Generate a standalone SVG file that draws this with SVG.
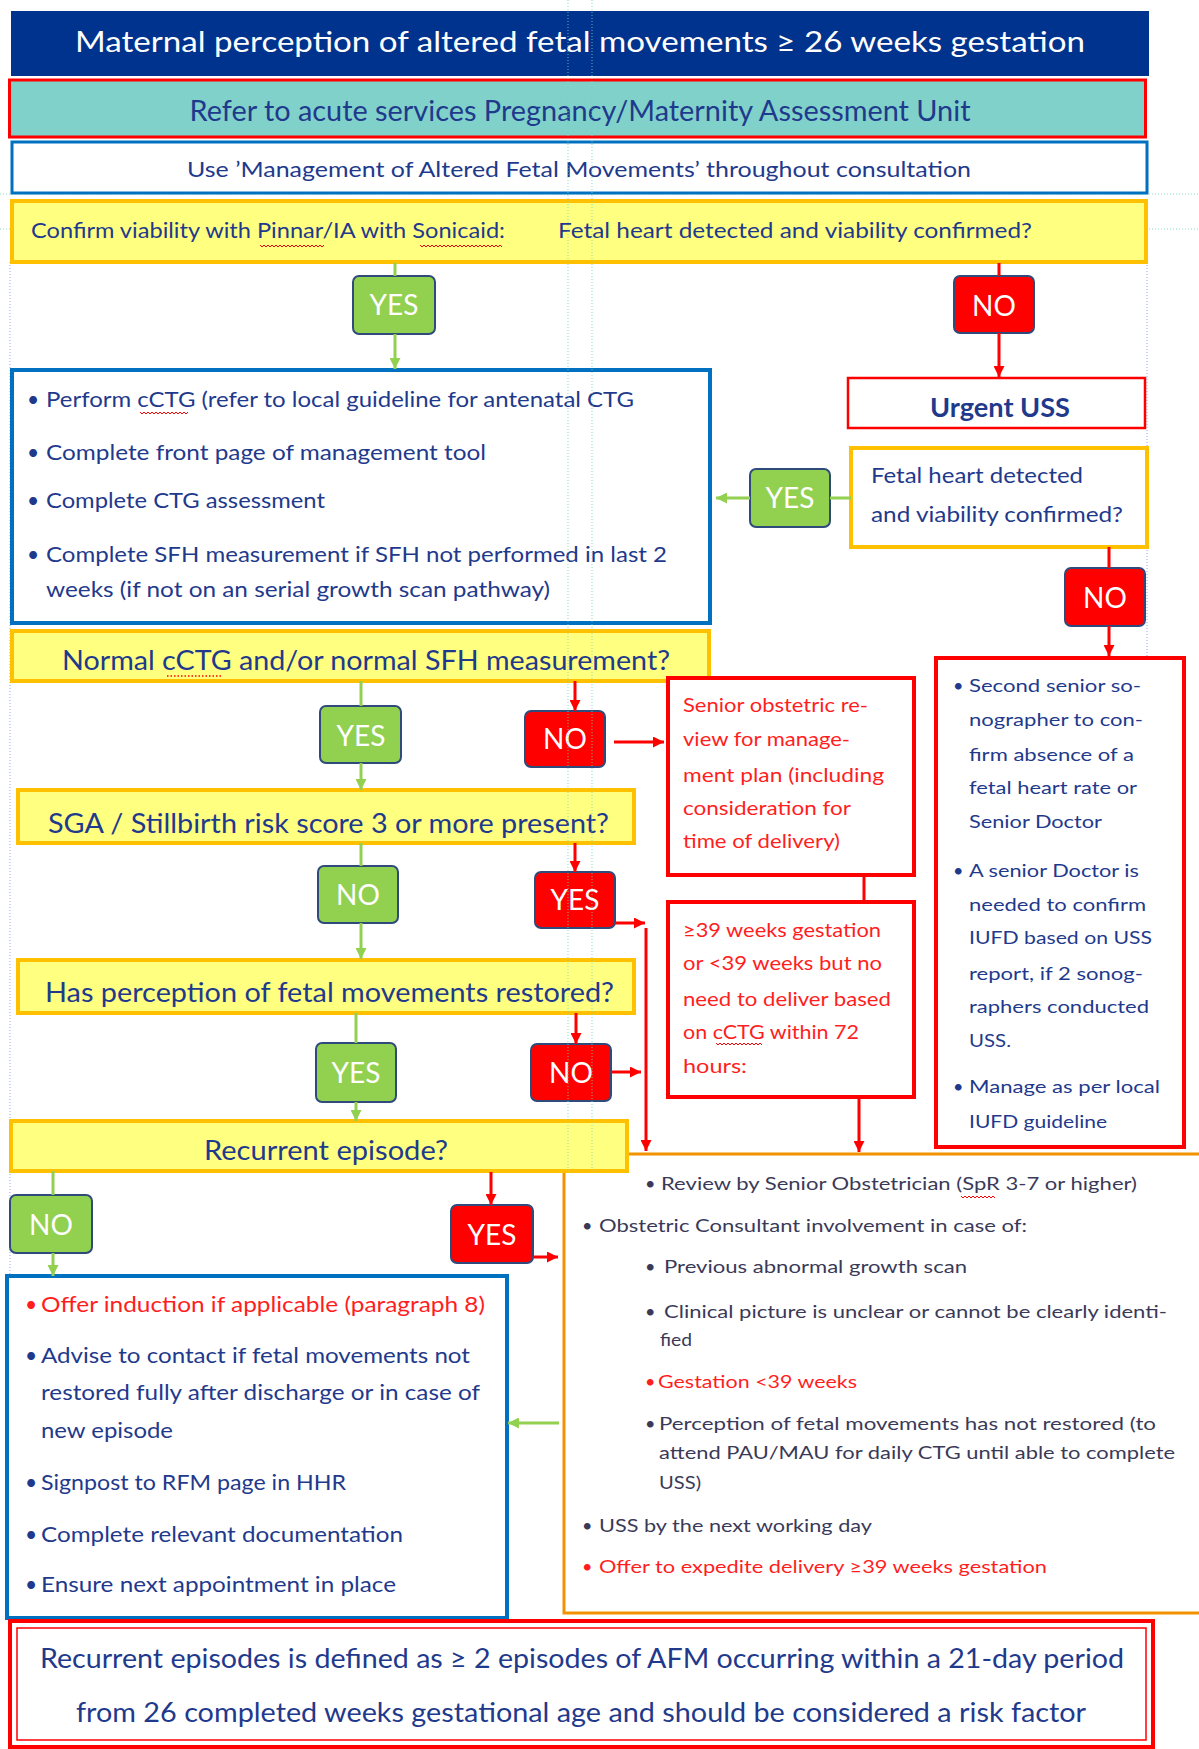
<svg xmlns="http://www.w3.org/2000/svg" width="1199" height="1749" viewBox="0 0 1199 1749">
<style>
text{font-family:Lato,"Liberation Sans",sans-serif}
.nv{fill:#1F3A8C}
.rd{fill:#FF1E1E}
.gy{fill:#3A3A58}
.yn{font-size:28px;fill:#fff;text-anchor:middle}
.gbox{fill:#92D050;stroke:#2F4B7C;stroke-width:2}
.rbox{fill:#FF0000;stroke:#2F4B7C;stroke-width:2}
.ybox{fill:#FFFF80;stroke:#FFC000;stroke-width:4}
.gl{stroke:#92D050;stroke-width:3;fill:none}
.rl{stroke:#FF0000;stroke-width:3;fill:none}
.guide{stroke:#8FA8F0;stroke-width:1;stroke-dasharray:1 2;fill:none}
.guideg{stroke:#6FD6B8;stroke-width:1;stroke-dasharray:1 2;fill:none;opacity:.8}
.sq{stroke:#FF0000;stroke-width:1;fill:none}
.b21{font-size:21px}
.b19{font-size:19px}
.b18{font-size:18px}
</style>
<defs>
<marker id="ag" viewBox="0 0 10 10" refX="10" refY="5" markerWidth="11" markerHeight="11" markerUnits="userSpaceOnUse" orient="auto"><path d="M0,0 L10,5 L0,10 z" fill="#92D050"/></marker>
<marker id="ar" viewBox="0 0 10 10" refX="10" refY="5" markerWidth="11" markerHeight="11" markerUnits="userSpaceOnUse" orient="auto"><path d="M0,0 L10,5 L0,10 z" fill="#FF0000"/></marker>
</defs>
<rect width="1199" height="1749" fill="#fff"/>

<g id="guides">
<line class="guideg" x1="0" y1="194" x2="1199" y2="194"/>
<line class="guideg" x1="0" y1="229" x2="1199" y2="229"/>
<line class="guide" x1="10" y1="262" x2="10" y2="1276"/>
<line class="guide" x1="1147" y1="262" x2="1147" y2="658"/>
</g>

<g id="header">
<rect x="11" y="11" width="1138" height="65" fill="#00338D"/>
<text x="580" y="52" font-size="28" fill="#fff" text-anchor="middle" textLength="1010" lengthAdjust="spacingAndGlyphs">Maternal perception of altered fetal movements  ≥ 26 weeks gestation</text>
</g>

<g id="refer">
<rect x="9.5" y="80" width="1136" height="57" fill="#80D1C9" stroke="#FF0000" stroke-width="3"/>
<text class="nv" x="580" y="121" font-size="28" text-anchor="middle" textLength="781" lengthAdjust="spacingAndGlyphs">Refer to acute services Pregnancy/Maternity Assessment Unit</text>
</g>

<g id="use-tool">
<rect x="12" y="142" width="1135" height="51" fill="#fff" stroke="#0070C0" stroke-width="3"/>
<text class="nv" x="579" y="177" font-size="22" text-anchor="middle" textLength="784" lengthAdjust="spacingAndGlyphs">Use ’Management of Altered Fetal Movements’ throughout consultation</text>
</g>

<g id="confirm">
<rect class="ybox" x="12" y="201" width="1134" height="61"/>
<text class="nv" x="31" y="238" font-size="21" textLength="474" lengthAdjust="spacingAndGlyphs">Confirm viability with Pinnar/IA with Sonicaid:</text>
<text class="nv" x="558" y="238" font-size="21" textLength="474" lengthAdjust="spacingAndGlyphs">Fetal heart detected and viability confirmed?</text>
<path class="sq" d="M260,245 l2,2 l2,-2 l2,2 l2,-2 l2,2 l2,-2 l2,2 l2,-2 l2,2 l2,-2 l2,2 l2,-2 l2,2 l2,-2 l2,2 l2,-2 l2,2 l2,-2 l2,2 l2,-2 l2,2 l2,-2 l2,2 l2,-2 l2,2 l2,-2 l2,2 l2,-2 l2,2 l2,-2 l2,2 l2,-2"/>
<path class="sq" d="M420,245 l2,2 l2,-2 l2,2 l2,-2 l2,2 l2,-2 l2,2 l2,-2 l2,2 l2,-2 l2,2 l2,-2 l2,2 l2,-2 l2,2 l2,-2 l2,2 l2,-2 l2,2 l2,-2 l2,2 l2,-2 l2,2 l2,-2 l2,2 l2,-2 l2,2 l2,-2 l2,2 l2,-2 l2,2 l2,-2 l2,2 l2,-2 l2,2 l2,-2 l2,2 l2,-2 l2,2 l2,-2 l2,2"/>
</g>

<g id="yes1"><rect class="gbox" x="353" y="276" width="82" height="58" rx="6"/><text class="yn" x="394" y="315">YES</text></g>
<g id="no1"><rect class="rbox" x="954" y="276" width="80" height="57" rx="6"/><text class="yn" x="994" y="316">NO</text></g>

<g id="urgent-uss">
<rect x="848" y="378" width="297" height="50" fill="#fff" stroke="#FF0000" stroke-width="2.5"/>
<text class="nv" x="1000" y="417" font-size="26" font-weight="bold" text-anchor="middle" textLength="140" lengthAdjust="spacingAndGlyphs">Urgent USS</text>
</g>

<g id="fetal-heart">
<rect x="851" y="448" width="296" height="99" fill="#fff" stroke="#FFC000" stroke-width="4"/>
<text class="nv b21" x="871" y="483" textLength="212" lengthAdjust="spacingAndGlyphs">Fetal heart detected</text>
<text class="nv b21" x="871" y="522" textLength="252" lengthAdjust="spacingAndGlyphs">and viability confirmed?</text>
</g>

<g id="yes2"><rect class="gbox" x="750" y="469" width="80" height="58" rx="6"/><text class="yn" x="790" y="508">YES</text></g>
<g id="no2"><rect class="rbox" x="1065" y="568" width="80" height="58" rx="6"/><text class="yn" x="1105" y="608">NO</text></g>

<g id="ctg-tasks">
<rect x="12" y="370" width="698" height="253" fill="#fff" stroke="#0070C0" stroke-width="4"/>
<text class="nv b21" x="27" y="407">•</text>
<text class="nv b21" x="46" y="407" textLength="588" lengthAdjust="spacingAndGlyphs">Perform cCTG (refer to local guideline for antenatal CTG</text>
<text class="nv b21" x="27" y="460">•</text>
<text class="nv b21" x="46" y="460" textLength="440" lengthAdjust="spacingAndGlyphs">Complete front page of management tool</text>
<text class="nv b21" x="27" y="508">•</text>
<text class="nv b21" x="46" y="508" textLength="279" lengthAdjust="spacingAndGlyphs">Complete CTG assessment</text>
<text class="nv b21" x="27" y="562">•</text>
<text class="nv b21" x="46" y="562" textLength="621" lengthAdjust="spacingAndGlyphs">Complete SFH measurement  if SFH not performed in last 2</text>
<text class="nv b21" x="46" y="597" textLength="504" lengthAdjust="spacingAndGlyphs">weeks (if not on an serial growth scan pathway)</text>
<path class="sq" d="M140,412 l2,2 l2,-2 l2,2 l2,-2 l2,2 l2,-2 l2,2 l2,-2 l2,2 l2,-2 l2,2 l2,-2 l2,2 l2,-2 l2,2 l2,-2 l2,2 l2,-2 l2,2 l2,-2 l2,2 l2,-2 l2,2 l2,-2"/>
</g>

<g id="normal-ctg">
<rect class="ybox" x="12" y="631" width="697" height="50"/>
<text class="nv" x="62" y="670" font-size="27" textLength="608" lengthAdjust="spacingAndGlyphs">Normal cCTG and/or normal SFH measurement?</text>
<line x1="167" y1="676" x2="223" y2="676" stroke="#FF0000" stroke-width="1.5" stroke-dasharray="1.5 2"/>
</g>

<g id="yes3"><rect class="gbox" x="320" y="706" width="81" height="57" rx="6"/><text class="yn" x="361" y="746">YES</text></g>
<g id="no3"><rect class="rbox" x="525" y="711" width="80" height="56" rx="6"/><text class="yn" x="565" y="749">NO</text></g>

<g id="senior-review">
<rect x="668" y="678" width="246" height="197" fill="#fff" stroke="#FF0000" stroke-width="4"/>
<text class="rd b19" x="683" y="712" textLength="185" lengthAdjust="spacingAndGlyphs">Senior obstetric re-</text>
<text class="rd b19" x="683" y="746" textLength="167" lengthAdjust="spacingAndGlyphs">view for manage-</text>
<text class="rd b19" x="683" y="782" textLength="201" lengthAdjust="spacingAndGlyphs">ment plan (including</text>
<text class="rd b19" x="683" y="815" textLength="168" lengthAdjust="spacingAndGlyphs">consideration for</text>
<text class="rd b19" x="683" y="848" textLength="157" lengthAdjust="spacingAndGlyphs">time of delivery)</text>
</g>

<g id="gestation-39">
<rect x="668" y="902" width="246" height="195" fill="#fff" stroke="#FF0000" stroke-width="4"/>
<text class="rd b19" x="683" y="937" textLength="198" lengthAdjust="spacingAndGlyphs">≥39 weeks gestation</text>
<text class="rd b19" x="683" y="970" textLength="199" lengthAdjust="spacingAndGlyphs">or &lt;39 weeks but no</text>
<text class="rd b19" x="683" y="1006" textLength="208" lengthAdjust="spacingAndGlyphs">need to deliver based</text>
<text class="rd b19" x="683" y="1039" textLength="176" lengthAdjust="spacingAndGlyphs">on cCTG within 72</text>
<text class="rd b19" x="683" y="1073" textLength="64" lengthAdjust="spacingAndGlyphs">hours:</text>
<path class="sq" d="M716,1043 l2,2 l2,-2 l2,2 l2,-2 l2,2 l2,-2 l2,2 l2,-2 l2,2 l2,-2 l2,2 l2,-2 l2,2 l2,-2 l2,2 l2,-2 l2,2 l2,-2 l2,2 l2,-2 l2,2 l2,-2 l2,2"/>
</g>

<g id="iufd">
<rect x="936" y="658" width="248" height="489" fill="#fff" stroke="#FF0000" stroke-width="4"/>
<text class="nv b18" x="953" y="692">•</text>
<text class="nv b18" x="969" y="692" textLength="172" lengthAdjust="spacingAndGlyphs">Second senior so-</text>
<text class="nv b18" x="969" y="726" textLength="174" lengthAdjust="spacingAndGlyphs">nographer to con-</text>
<text class="nv b18" x="969" y="761" textLength="165" lengthAdjust="spacingAndGlyphs">firm absence of a</text>
<text class="nv b18" x="969" y="794" textLength="168" lengthAdjust="spacingAndGlyphs">fetal heart rate or</text>
<text class="nv b18" x="969" y="828" textLength="133" lengthAdjust="spacingAndGlyphs">Senior Doctor</text>
<text class="nv b18" x="953" y="877">•</text>
<text class="nv b18" x="969" y="877" textLength="170" lengthAdjust="spacingAndGlyphs">A senior Doctor is</text>
<text class="nv b18" x="969" y="911" textLength="177" lengthAdjust="spacingAndGlyphs">needed to confirm</text>
<text class="nv b18" x="969" y="944" textLength="183" lengthAdjust="spacingAndGlyphs">IUFD based on USS</text>
<text class="nv b18" x="969" y="980" textLength="174" lengthAdjust="spacingAndGlyphs">report, if 2 sonog-</text>
<text class="nv b18" x="969" y="1013" textLength="180" lengthAdjust="spacingAndGlyphs">raphers conducted</text>
<text class="nv b18" x="969" y="1047" textLength="42" lengthAdjust="spacingAndGlyphs">USS.</text>
<text class="nv b18" x="953" y="1093">•</text>
<text class="nv b18" x="969" y="1093" textLength="191" lengthAdjust="spacingAndGlyphs">Manage as per local</text>
<text class="nv b18" x="969" y="1128" textLength="138" lengthAdjust="spacingAndGlyphs">IUFD guideline</text>
</g>

<g id="sga">
<rect class="ybox" x="18" y="790" width="616" height="53"/>
<text class="nv" x="48" y="833" font-size="27" textLength="561" lengthAdjust="spacingAndGlyphs">SGA / Stillbirth risk score 3 or more present?</text>
</g>

<g id="no4"><rect class="gbox" x="318" y="866" width="80" height="57" rx="6"/><text class="yn" x="358" y="905">NO</text></g>
<g id="yes4"><rect class="rbox" x="535" y="872" width="80" height="56" rx="6"/><text class="yn" x="575" y="910">YES</text></g>

<g id="restored">
<rect class="ybox" x="18" y="960" width="616" height="53"/>
<text class="nv" x="45" y="1002" font-size="27" textLength="569" lengthAdjust="spacingAndGlyphs">Has perception of fetal movements restored?</text>
</g>

<g id="yes5"><rect class="gbox" x="316" y="1043" width="80" height="59" rx="6"/><text class="yn" x="356" y="1083">YES</text></g>
<g id="no5"><rect class="rbox" x="531" y="1044" width="80" height="57" rx="6"/><text class="yn" x="571" y="1083">NO</text></g>

<g id="senior-obstetrician">
<rect x="564" y="1154" width="660" height="459" fill="#fff" stroke="#F39200" stroke-width="3"/>
<text class="gy b18" x="645" y="1190">•</text>
<text class="gy b18" x="661" y="1190" textLength="476" lengthAdjust="spacingAndGlyphs">Review by Senior Obstetrician (SpR 3-7 or higher)</text>
<path class="sq" d="M961,1196 l2,2 l2,-2 l2,2 l2,-2 l2,2 l2,-2 l2,2 l2,-2 l2,2 l2,-2 l2,2 l2,-2 l2,2 l2,-2 l2,2 l2,-2 l2,2"/>
<text class="gy b18" x="582" y="1232">•</text>
<text class="gy b18" x="599" y="1232" textLength="428" lengthAdjust="spacingAndGlyphs">Obstetric Consultant involvement in case of:</text>
<text class="gy b18" x="645" y="1273">•</text>
<text class="gy b18" x="664" y="1273" textLength="303" lengthAdjust="spacingAndGlyphs">Previous abnormal growth scan</text>
<text class="gy b18" x="645" y="1318">•</text>
<text class="gy b18" x="664" y="1318" textLength="503" lengthAdjust="spacingAndGlyphs">Clinical picture is unclear or cannot be clearly identi-</text>
<text class="gy b18" x="660" y="1346" textLength="32" lengthAdjust="spacingAndGlyphs">fied</text>
<text class="rd b18" x="645" y="1388">•</text>
<text class="rd b18" x="658" y="1388" textLength="199" lengthAdjust="spacingAndGlyphs">Gestation &lt;39 weeks</text>
<text class="gy b18" x="645" y="1430">•</text>
<text class="gy b18" x="659" y="1430" textLength="497" lengthAdjust="spacingAndGlyphs">Perception of fetal movements has not restored (to</text>
<text class="gy b18" x="659" y="1459" textLength="516" lengthAdjust="spacingAndGlyphs">attend PAU/MAU for daily CTG until able to complete</text>
<text class="gy b18" x="659" y="1489" textLength="42" lengthAdjust="spacingAndGlyphs">USS)</text>
<text class="gy b18" x="582" y="1532">•</text>
<text class="gy b18" x="599" y="1532" textLength="273" lengthAdjust="spacingAndGlyphs">USS by the next working day</text>
<text class="rd b18" x="582" y="1573">•</text>
<text class="rd b18" x="599" y="1573" textLength="448" lengthAdjust="spacingAndGlyphs">Offer to expedite delivery ≥39 weeks gestation</text>
</g>

<g id="recurrent">
<rect class="ybox" x="11" y="1121" width="616" height="50"/>
<text class="nv" x="326" y="1160" font-size="27" text-anchor="middle" textLength="244" lengthAdjust="spacingAndGlyphs">Recurrent episode?</text>
</g>

<g id="no6"><rect class="gbox" x="10" y="1195" width="82" height="58" rx="6"/><text class="yn" x="51" y="1235">NO</text></g>
<g id="yes6"><rect class="rbox" x="451" y="1205" width="82" height="58" rx="6"/><text class="yn" x="492" y="1245">YES</text></g>

<g id="discharge">
<rect x="7" y="1276" width="500" height="342" fill="#fff" stroke="#0070C0" stroke-width="4"/>
<text class="rd b21" x="25" y="1312">•</text>
<text class="rd b21" x="41" y="1312" textLength="444" lengthAdjust="spacingAndGlyphs">Offer induction if applicable (paragraph 8)</text>
<text class="nv b21" x="25" y="1363">•</text>
<text class="nv b21" x="41" y="1363" textLength="429" lengthAdjust="spacingAndGlyphs">Advise to contact if fetal movements not</text>
<text class="nv b21" x="41" y="1400" textLength="439" lengthAdjust="spacingAndGlyphs">restored fully after discharge or in case of</text>
<text class="nv b21" x="41" y="1438" textLength="132" lengthAdjust="spacingAndGlyphs">new episode</text>
<text class="nv b21" x="25" y="1490">•</text>
<text class="nv b21" x="41" y="1490" textLength="305" lengthAdjust="spacingAndGlyphs">Signpost to RFM page in HHR</text>
<text class="nv b21" x="25" y="1542">•</text>
<text class="nv b21" x="41" y="1542" textLength="362" lengthAdjust="spacingAndGlyphs">Complete relevant documentation</text>
<text class="nv b21" x="25" y="1592">•</text>
<text class="nv b21" x="41" y="1592" textLength="355" lengthAdjust="spacingAndGlyphs">Ensure next appointment in place</text>
</g>

<g id="definition">
<rect x="10" y="1621" width="1143" height="126" fill="#fff" stroke="#FF0000" stroke-width="4"/>
<rect x="17" y="1628" width="1129" height="112" fill="none" stroke="#FF0000" stroke-width="1.5"/>
<text class="nv" x="582" y="1668" font-size="26" text-anchor="middle" textLength="1084" lengthAdjust="spacingAndGlyphs">Recurrent episodes is defined as ≥ 2 episodes of AFM occurring within a 21-day period</text>
<text class="nv" x="581" y="1722" font-size="26" text-anchor="middle" textLength="1010" lengthAdjust="spacingAndGlyphs">from 26 completed weeks gestational age and should be considered a risk factor</text>
</g>

<g id="connectors">
<line class="gl" x1="395" y1="263" x2="395" y2="276"/>
<line class="gl" x1="395" y1="334" x2="395" y2="369" marker-end="url(#ag)"/>
<line class="rl" x1="999" y1="263" x2="999" y2="276"/>
<line class="rl" x1="999" y1="333" x2="999" y2="377" marker-end="url(#ar)"/>
<line class="gl" x1="851" y1="498" x2="830" y2="498"/>
<line class="gl" x1="750" y1="498" x2="716" y2="498" marker-end="url(#ag)"/>
<line class="rl" x1="1109" y1="547" x2="1109" y2="568"/>
<line class="rl" x1="1109" y1="626" x2="1109" y2="656" marker-end="url(#ar)"/>
<line class="gl" x1="361" y1="681" x2="361" y2="706"/>
<line class="gl" x1="361" y1="763" x2="361" y2="790" marker-end="url(#ag)"/>
<line class="rl" x1="575" y1="681" x2="575" y2="711" marker-end="url(#ar)"/>
<line class="rl" x1="614" y1="742" x2="664" y2="742" marker-end="url(#ar)"/>
<line class="rl" x1="864" y1="875" x2="864" y2="902"/>
<line class="gl" x1="361" y1="843" x2="361" y2="866"/>
<line class="gl" x1="361" y1="923" x2="361" y2="959" marker-end="url(#ag)"/>
<line class="rl" x1="575" y1="843" x2="575" y2="872" marker-end="url(#ar)"/>
<line class="rl" x1="615" y1="923" x2="645" y2="923" marker-end="url(#ar)"/>
<line class="rl" x1="646" y1="928" x2="646" y2="1151" marker-end="url(#ar)"/>
<line class="rl" x1="859" y1="1097" x2="859" y2="1152" marker-end="url(#ar)"/>
<line class="gl" x1="356" y1="1013" x2="356" y2="1043"/>
<line class="gl" x1="356" y1="1102" x2="356" y2="1121" marker-end="url(#ag)"/>
<line class="rl" x1="576" y1="1013" x2="576" y2="1044" marker-end="url(#ar)"/>
<line class="rl" x1="611" y1="1072" x2="641" y2="1072" marker-end="url(#ar)"/>
<line class="gl" x1="53" y1="1171" x2="53" y2="1195"/>
<line class="gl" x1="53" y1="1253" x2="53" y2="1276" marker-end="url(#ag)"/>
<line class="rl" x1="491" y1="1172" x2="491" y2="1205" marker-end="url(#ar)"/>
<line class="rl" x1="533" y1="1257" x2="558" y2="1257" marker-end="url(#ar)"/>
<line class="gl" x1="559" y1="1423" x2="508" y2="1423" marker-end="url(#ag)"/>
</g>

<g id="guides-top">
<line class="guideg" x1="568" y1="0" x2="568" y2="1172"/>
<line class="guideg" x1="592" y1="0" x2="592" y2="1172"/>
</g>
</svg>
